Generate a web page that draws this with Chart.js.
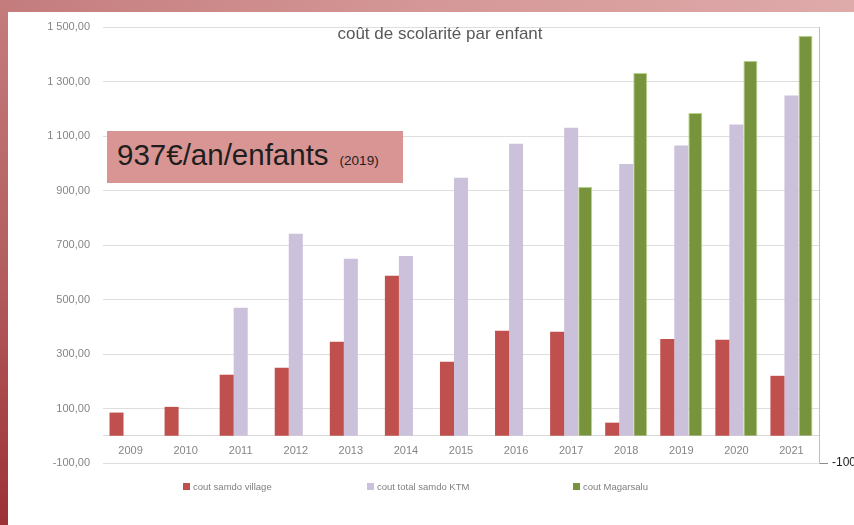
<!DOCTYPE html>
<html>
<head>
<meta charset="utf-8">
<script src="https://cdn.jsdelivr.net/npm/chart.js@4"></script>
<style>
    body { margin: 0; width: 854px; height: 525px; overflow: hidden; position: relative; background: #fff; }
    .frame-top { position: absolute; left: 0; top: 0; width: 854px; height: 12px; background: linear-gradient(to right, #c47c7d, #d59797 50%, #dfaaaa); }
    .frame-left { position: absolute; left: 0; top: 0; width: 8px; height: 525px; background: linear-gradient(to bottom, #c47c7d, #b45e60 50%, #9c3235); }
    .chart-box { position: absolute; left: 8px; top: 12px; width: 846px; height: 513px; }
    .note { position: absolute; left: 107px; top: 131px; width: 286px; height: 52px; padding-left: 10px;
            background: #d99594; color: #1e1e1e; font-family: "Liberation Sans", Arial, sans-serif;
            font-size: 29.5px; line-height: 48px; white-space: nowrap; }
    .note small { font-size: 13.5px; margin-left: 11px; }
</style>
</head>
<body>
<div class="frame-top"></div>
<div class="frame-left"></div>
<div class="chart-box"><canvas id="chart" width="846" height="513"></canvas></div>
<div class="note">937€/an/enfants<small>(2019)</small></div>
<script>
const years = ['2009', '2010', '2011', '2012', '2013', '2014', '2015', '2016', '2017', '2018', '2019', '2020', '2021'];
const samdoVillage = [85, 106, 224, 250, 345, 587, 272, 385, 382, 48, 355, 352, 220];
const samdoKTM = [null, null, 470, 741, 650, 660, 947, 1072, 1130, 997, 1065, 1142, 1249];
const magarsalu = [null, null, null, null, null, null, null, null, 914, 1331, 1184, 1376, 1468];
const seriesNames = ['cout samdo village', 'cout total samdo KTM', 'cout Magarsalu'];
const chartTitle = 'coût de scolarité par enfant';

const FONT = '"Liberation Sans", Arial, sans-serif';

function formatFr(v) {
    const parts = Math.abs(v).toFixed(2).split('.');
    const int = parts[0].replace(/\B(?=(\d{3})+(?!\d))/g, ' ');
    return (v < 0 ? '-' : '') + int + ',' + parts[1];
}

// title + legend drawn inside the canvas
const decorations = {
    id: 'decorations',
    afterDraw(chart) {
        const ctx = chart.ctx;
        ctx.save();
        ctx.font = '17px ' + FONT;
        ctx.fillStyle = '#595959';
        ctx.textAlign = 'center';
        ctx.textBaseline = 'middle';
        ctx.fillText(chartTitle, 432, 22);

        const legendX = [175, 359, 565];
        ctx.font = '9.5px ' + FONT;
        ctx.textAlign = 'left';
        chart.data.datasets.forEach((ds, i) => {
            ctx.fillStyle = ds.backgroundColor;
            ctx.fillRect(legendX[i], 471, 7, 7);
            ctx.fillStyle = '#808080';
            ctx.fillText(ds.label, legendX[i] + 10, 475);
        });
        ctx.restore();
    }
};

const ctx = document.getElementById('chart').getContext('2d');
new Chart(ctx, {
    type: 'bar',
    data: {
        labels: years,
        datasets: [
            { label: seriesNames[0], data: samdoVillage, backgroundColor: '#c0504d' },
            { label: seriesNames[1], data: samdoKTM, backgroundColor: '#ccc1da' },
            { label: seriesNames[2], data: magarsalu, backgroundColor: '#77933c', borderColor: '#b9d68a', borderWidth: 1 }
        ]
    },
    options: {
        responsive: false,
        animation: false,
        categoryPercentage: 0.764,
        barPercentage: 1,
        layout: { padding: { top: 15, bottom: 62, left: 0, right: 0 } },
        plugins: {
            legend: { display: false },
            title: { display: false },
            tooltip: { enabled: false }
        },
        scales: {
            x: {
                position: { y: 0 },
                grid: { display: false, drawTicks: false },
                border: { display: true, color: '#d9d9d9' },
                ticks: { color: '#858585', font: { family: FONT, size: 11 }, padding: 9, maxRotation: 0 },
                afterFit: s => { s.height = 0; }
            },
            y: {
                min: -100,
                max: 1500,
                grid: { color: '#dedede', tickLength: 12, tickColor: 'rgba(0,0,0,0)' },
                border: { display: false },
                ticks: {
                    stepSize: 200,
                    padding: 1,
                    color: '#858585',
                    font: { family: FONT, size: 11 },
                    callback: v => formatFr(v)
                },
                afterFit: s => { s.width = 95; }
            },
            y2: {
                position: 'right',
                min: -100,
                max: 1500,
                grid: {
                    drawOnChartArea: false,
                    tickLength: 9,
                    color: c => (c.tick && c.tick.value === -100) ? '#8c8c8c' : 'rgba(0,0,0,0)'
                },
                border: { display: true, color: '#bfbfbf' },
                ticks: {
                    stepSize: 200,
                    padding: 4,
                    color: '#202020',
                    font: { family: FONT, size: 12 },
                    callback: v => v === -100 ? formatFr(v) : ''
                },
                afterFit: s => { s.width = 35; }
            }
        }
    },
    plugins: [decorations]
});
</script>
</body>
</html>
